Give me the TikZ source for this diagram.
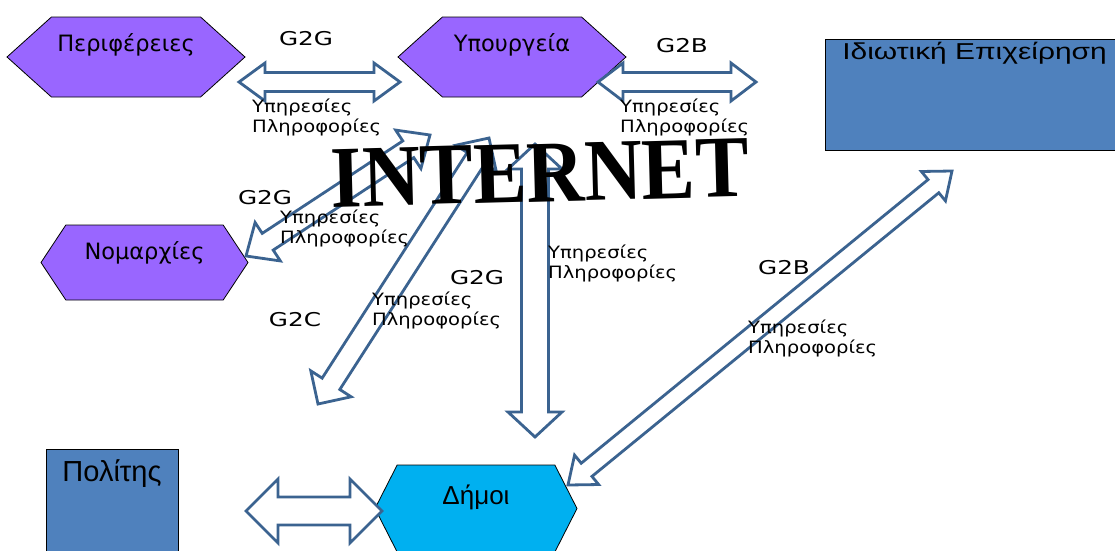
\documentclass[tikz,border=0pt]{standalone}
\usepackage{fontspec}
\setmainfont{DejaVu Sans}
\newfontfamily\gfont[FakeStretch=1.3]{DejaVu Sans}
\newfontfamily\infofont[FakeStretch=1.15]{DejaVu Sans}
\newfontfamily\boxfont{Liberation Sans}
\newfontfamily\wideboxfont[FakeStretch=1.3]{Liberation Sans}
\newfontfamily\netfont{Liberation Serif}
\usetikzlibrary{shapes.symbols,calc}

\definecolor{hexpurple}{HTML}{9966FF}
\definecolor{dimcyan}{HTML}{00B0F0}
\definecolor{boxblue}{HTML}{4F81BD}
\definecolor{arrline}{HTML}{3B6390}

\tikzset{
  hexbox/.style={shape=signal, signal to=east and west, draw=black, line width=0.8pt, fill=hexpurple, inner sep=0pt},
  rectbox/.style={rectangle, draw=black, line width=0.8pt, fill=boxblue, inner sep=0pt},
  hexlbl/.style={font=\fontsize{22.5}{26}\selectfont, inner sep=0pt},
  gtag/.style={font=\gfont\fontsize{19}{22}\selectfont, inner sep=0pt},
  infotag/.style={font=\infofont\fontsize{17}{20}\selectfont, align=left, anchor=west, inner sep=0pt},
  blockarrow/.style={draw=arrline, line width=2.8pt, fill=white, line join=miter},
}

% double block arrow: ends, half shaft, half head, head length
\newcommand{\dblarrow}[5]{%
  \coordinate (ha) at ($(#1)!#5!(#2)$);
  \coordinate (hb) at ($(#2)!#5!(#1)$);
  \draw [blockarrow] (#1) -- ($(ha)!#4!90:(#2)$) -- ($(ha)!#3!90:(#2)$)
    -- ($(hb)!#3!-90:(#1)$) -- ($(hb)!#4!-90:(#1)$) -- (#2)
    -- ($(hb)!#4!90:(#1)$) -- ($(hb)!#3!90:(#1)$)
    -- ($(ha)!#3!-90:(#2)$) -- ($(ha)!#4!-90:(#2)$) -- cycle;}

\begin{document}
\begin{tikzpicture}[x=1pt, y=-1pt]
\useasboundingbox (0,0) rectangle (1115,550);
\clip (0,0) rectangle (1115,550);
\node (peri) at (126,57) [hexbox, signal pointer angle=84, minimum width=238pt, minimum height=80pt, label={[hexlbl, yshift=12pt]center:Περιφέρειες}] {};
\node (ypou) at (512,57) [hexbox, signal pointer angle=84, minimum width=228pt, minimum height=80pt, label={[hexlbl, yshift=12pt]center:Υπουργεία}] {};
\node (nomo) at (144.5,262.5) [hexbox, signal pointer angle=113, minimum width=207pt, minimum height=75pt, label={[hexlbl, yshift=10pt]center:Νομαρχίες}] {};
\node (dimoi) at (476,508.5) [hexbox, fill=dimcyan, signal pointer angle=126, minimum width=202pt, minimum height=87pt, label={[font=\boxfont\fontsize{26}{30}\selectfont, inner sep=0pt, yshift=11pt]center:Δήμοι}] {};
\node (epix) at (974.5,94.5) [rectbox, minimum width=299pt, minimum height=111pt, label={[font=\wideboxfont\fontsize{23}{28}\selectfont, inner sep=0pt, yshift=41.5pt]center:Ιδιωτική Επιχείρηση}] {};
\node (polit) at (112,549.5) [rectbox, minimum width=132pt, minimum height=201pt, label={[font=\boxfont\fontsize{29}{34}\selectfont, inner sep=0pt, yshift=75.5pt]center:Πολίτης}] {};
% arrow ends
\coordinate (a-peri) at (239,82);
\coordinate (a-ypou) at (400,82);
\coordinate (b-ypou) at (598,82);
\coordinate (b-epix) at (756,82);
\coordinate (a-nomo) at (246,256);
\coordinate (a-net) at (430,135);
\coordinate (c-polit) at (318,404);
\coordinate (c-net) at (489,138);
\coordinate (v-net) at (535,144);
\coordinate (v-dimoi) at (535,437);
\coordinate (d-dimoi) at (568,485);
\coordinate (d-epix) at (952,171);
\coordinate (p-polit) at (246,511);
\coordinate (p-dimoi) at (382,511);
\dblarrow{a-peri}{a-ypou}{9.5pt}{19pt}{26pt}
\dblarrow{b-ypou}{b-epix}{9.5pt}{19pt}{25pt}
\dblarrow{a-nomo}{a-net}{10pt}{23pt}{26pt}
\dblarrow{c-polit}{c-net}{10.5pt}{24pt}{24pt}
\dblarrow{v-net}{v-dimoi}{13.5pt}{27pt}{25pt}
\dblarrow{d-dimoi}{d-epix}{8.5pt}{19pt}{24pt}
\dblarrow{p-polit}{p-dimoi}{14pt}{32pt}{32pt}
% labels
\node (g1) at (306,39) [gtag] {G2G};
\node (g2) at (682,46) [gtag] {G2B};
\node (g3) at (265,198) [gtag] {G2G};
\node (g4) at (295,320) [gtag] {G2C};
\node (g5) at (477,278) [gtag] {G2G};
\node (g6) at (784,268) [gtag] {G2B};
\node (i1) at (252,117) [infotag] {Υπηρεσίες\\Πληροφορίες};
\node (i2) at (620,117) [infotag] {Υπηρεσίες\\Πληροφορίες};
\node (i3) at (280,228) [infotag] {Υπηρεσίες\\Πληροφορίες};
\node (i4) at (372,310) [infotag] {Υπηρεσίες\\Πληροφορίες};
\node (i5) at (548,263) [infotag] {Υπηρεσίες\\Πληροφορίες};
\node (i6) at (748,338) [infotag] {Υπηρεσίες\\Πληροφορίες};
\node (net) at (540,173) [font=\netfont\bfseries\fontsize{80}{80}\selectfont, inner sep=0pt, rotate=1.5, yscale=1.1, transform shape] {INTERNET};
\end{tikzpicture}
\end{document}
